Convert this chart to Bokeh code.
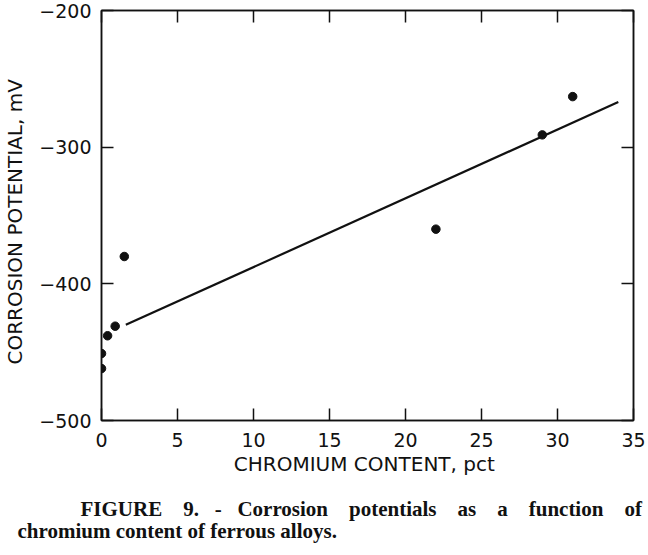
from bokeh.plotting import figure
from bokeh.models import LinearAxis, FixedTicker, Range1d, CustomLabelingPolicy, Title
from bokeh.embed import file_html
from bokeh.resources import INLINE

# Data
chromium = [0.0, 0.0, 0.4, 0.9, 1.5, 22.0, 29.0, 31.0]
potential = [-451, -462, -438, -431, -380, -360, -291, -263]
fit_x = [1.6, 34.0]
fit_y = [-430, -267]

x_ticks = [0, 5, 10, 15, 20, 25, 30, 35]
y_ticks = [-500, -400, -300, -200]
y_tick_labels = ["\u2212500", "\u2212400", "\u2212300", "\u2212200"]

x_label = "CHROMIUM  CONTENT, pct"
y_label = "CORROSION  POTENTIAL,  mV"
caption_1 = "FIGURE 9. - Corrosion potentials as a function of"
caption_2 = "chromium content of ferrous alloys."

AX_FONT = "DejaVu Sans"
INK = "#111111"

p = figure(width=648, height=555, frame_width=532, frame_height=410,
           x_range=Range1d(0, 35), y_range=Range1d(-500, -200),
           output_backend="svg", toolbar_location=None,
           min_border_left=101, min_border_right=15, min_border_top=10,
           min_border_bottom=135, background_fill_color="white",
           border_fill_color="white")
p.grid.visible = False
p.outline_line_color = INK
p.outline_line_width = 1.5

no_labels = CustomLabelingPolicy(code="""
for (const i of Array.from(indices)) indices.unset(i);
return indices;
""")

def style_axis(ax, labels=True):
    ax.axis_line_color = INK
    ax.axis_line_width = 1.5
    ax.major_tick_in = 12
    ax.major_tick_out = 0
    ax.major_tick_line_color = INK
    ax.major_tick_line_width = 1.5
    ax.minor_tick_line_color = None
    ax.major_label_text_font = AX_FONT
    ax.major_label_text_color = INK
    if labels:
        ax.major_label_text_font_size = "19px"
    else:
        ax.major_label_text_font_size = "0px"
        ax.major_label_policy = no_labels
        ax.major_label_standoff = 0

xa = p.xaxis[0]
xa.ticker = FixedTicker(ticks=x_ticks)
style_axis(xa)
xa.major_label_standoff = 12
xa.axis_label = x_label
xa.axis_label_text_font = AX_FONT
xa.axis_label_text_font_size = "20px"
xa.axis_label_text_font_style = "normal"
xa.axis_label_text_color = INK
xa.axis_label_standoff = 2

ya = p.yaxis[0]
ya.ticker = FixedTicker(ticks=y_ticks)
ya.major_label_overrides = {t: l for t, l in zip(y_ticks, y_tick_labels)}
style_axis(ya)
ya.major_label_standoff = 10
ya.axis_label = y_label
ya.axis_label_text_font = AX_FONT
ya.axis_label_text_font_size = "20px"
ya.axis_label_text_font_style = "normal"
ya.axis_label_text_color = INK
ya.axis_label_standoff = 9

top = LinearAxis(ticker=FixedTicker(ticks=x_ticks))
style_axis(top, labels=False)
p.add_layout(top, "above")
right = LinearAxis(ticker=FixedTicker(ticks=y_ticks))
style_axis(right, labels=False)
p.add_layout(right, "right")

p.line(fit_x, fit_y, line_color=INK, line_width=2.2)
p.scatter(chromium, potential, size=8.5, fill_color=INK, line_color=INK)

# figure caption: first line indented and justified, second flush left
NB = "\u00a0"
words = caption_1.split(" ")
gaps = [4, 3, 3, 4, 4, 4, 4, 4]
line1 = NB * 12 + words[0]
for g, w in zip(gaps, words[1:]):
    line1 += NB * g + w
caption = line1 + "\n" + caption_2
t = Title(text=caption, align="left", offset=-84, standoff=36,
          vertical_align="top", text_font="Liberation Serif",
          text_font_size="21px", text_font_style="bold", text_color=INK,
          text_line_height=0.95)
p.add_layout(t, "below")

open("out.html", "w").write(file_html(p, INLINE))
